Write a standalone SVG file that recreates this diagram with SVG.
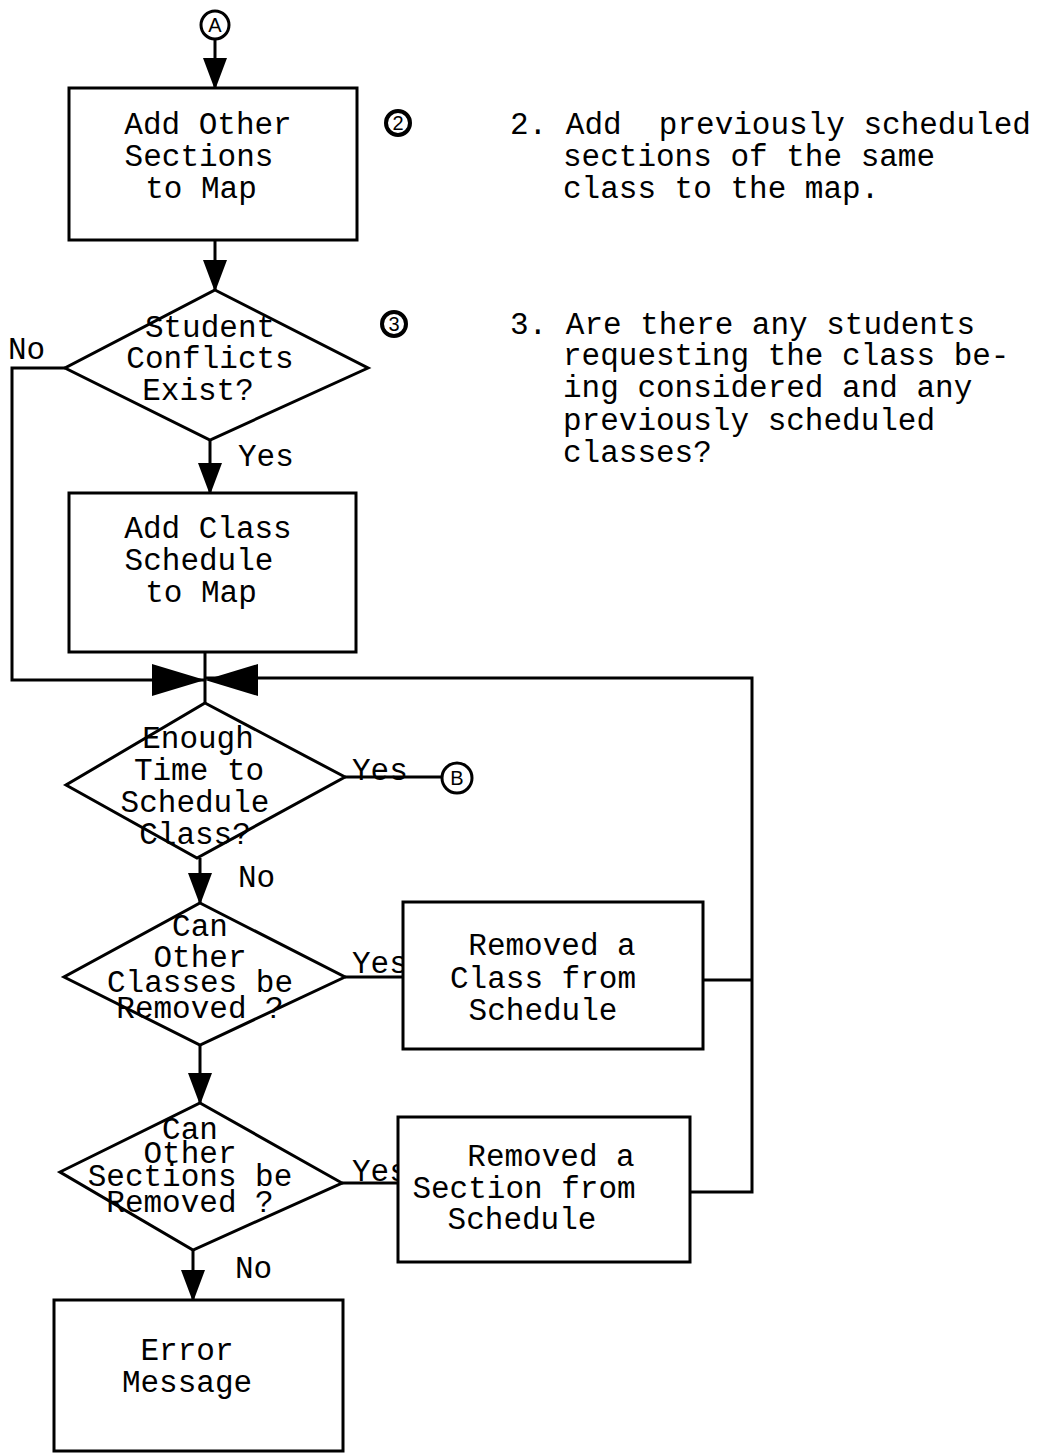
<svg xmlns="http://www.w3.org/2000/svg" width="1052" height="1453" viewBox="0 0 1052 1453">
<defs>
<marker id="ah" markerUnits="userSpaceOnUse" markerWidth="32" markerHeight="24" refX="30" refY="12" orient="auto" viewBox="0 0 32 24">
<path d="M0,0 L32,12 L0,24 Z" fill="#000"/>
</marker>
<style>
.t{font-family:"Liberation Mono","Courier New",monospace;font-size:31px;fill:#000;text-anchor:middle}
.l{font-family:"Liberation Mono","Courier New",monospace;font-size:31px;fill:#000}
.s{fill:#fff;stroke:#000;stroke-width:3}
.c{fill:none;stroke:#000;stroke-width:3}
.n{font-family:"Liberation Sans",Arial,sans-serif;font-size:20px;fill:#000;text-anchor:middle}
</style>
</defs>
<rect width="1052" height="1453" fill="#fff"/>
<g id="connectors">
<line class="c" x1="215" y1="39" x2="215" y2="88" marker-end="url(#ah)"/>
<line class="c" x1="215" y1="240" x2="215" y2="290" marker-end="url(#ah)"/>
<line class="c" x1="210" y1="440" x2="210" y2="493" marker-end="url(#ah)"/>
<polyline class="c" points="65,368 12,368 12,680 205,680"/>
<line class="c" x1="205" y1="652" x2="205" y2="703"/>
<polyline class="c" points="703,980 752,980"/>
<polyline class="c" points="690,1192 752,1192 752,678 205,678"/>
<path d="M152,664 L205,680 L152,696 Z" fill="#000"/>
<path d="M258,664 L205,680 L258,696 Z" fill="#000"/>
<line class="c" x1="345" y1="777" x2="442" y2="777"/>
<line class="c" x1="200" y1="858" x2="200" y2="903" marker-end="url(#ah)"/>
<line class="c" x1="345" y1="977" x2="403" y2="977"/>
<line class="c" x1="200" y1="1045" x2="200" y2="1103" marker-end="url(#ah)"/>
<line class="c" x1="342" y1="1183" x2="398" y2="1183"/>
<line class="c" x1="193" y1="1250" x2="193" y2="1300" marker-end="url(#ah)"/>
<text class="l" x="8" y="359">No</text>
<text class="l" x="238" y="466">Yes</text>
<text class="l" x="352" y="780">Yes</text>
<text class="l" x="238" y="887">No</text>
<text class="l" x="352" y="973">Yes</text>
<text class="l" x="352" y="1181">Yes</text>
<text class="l" x="235" y="1278">No</text>
</g>
<g id="connA">
<circle cx="215" cy="25" r="14" class="s"/>
<text class="n" x="215" y="32">A</text>
</g>
<g id="connB">
<circle cx="457" cy="778" r="15" class="s"/>
<text class="n" x="457" y="785">B</text>
</g>
<g id="box1">
<rect x="69" y="88" width="288" height="152" class="s"/>
<text class="t" x="208" y="134">Add Other</text>
<text class="t" x="199" y="166">Sections</text>
<text class="t" x="201" y="198">to Map</text>
</g>
<g id="note2">
<circle cx="398" cy="123" r="12" fill="#fff" stroke="#000" stroke-width="4"/>
<text class="n" x="398" y="130">2</text>
<text class="l" x="510" y="134" xml:space="preserve">2. Add  previously scheduled</text>
<text class="l" x="563" y="166">sections of the same</text>
<text class="l" x="563" y="198">class to the map.</text>
</g>
<g id="dec1">
<polygon points="215,290 368,368 210,440 65,368" class="s"/>
<text class="t" x="210" y="337">Student</text>
<text class="t" x="210" y="368">Conflicts</text>
<text class="t" x="198" y="400">Exist?</text>
</g>
<g id="note3">
<circle cx="394" cy="324" r="12" fill="#fff" stroke="#000" stroke-width="4"/>
<text class="n" x="394" y="331">3</text>
<text class="l" x="510" y="334">3. Are there any students</text>
<text class="l" x="563" y="365">requesting the class be-</text>
<text class="l" x="563" y="397">ing considered and any</text>
<text class="l" x="563" y="430">previously scheduled</text>
<text class="l" x="563" y="462">classes?</text>
</g>
<g id="box2">
<rect x="69" y="493" width="287" height="159" class="s"/>
<text class="t" x="208" y="538">Add Class</text>
<text class="t" x="199" y="570">Schedule</text>
<text class="t" x="201" y="602">to Map</text>
</g>
<g id="dec2">
<polygon points="205,703 345,777 197,858 66,785" class="s"/>
<text class="t" x="198" y="748">Enough</text>
<text class="t" x="199" y="780">Time to</text>
<text class="t" x="195" y="812">Schedule</text>
<text class="t" x="195" y="844">Class?</text>
</g>
<g id="dec3">
<polygon points="200,903 345,977 200,1045 64,977" class="s"/>
<text class="t" x="200" y="936">Can</text>
<text class="t" x="200" y="967">Other</text>
<text class="t" x="200" y="992">Classes be</text>
<text class="t" x="200" y="1018">Removed ?</text>
</g>
<g id="box3">
<rect x="403" y="902" width="300" height="147" class="s"/>
<text class="t" x="552" y="955">Removed a</text>
<text class="t" x="543" y="988">Class from</text>
<text class="t" x="543" y="1020">Schedule</text>
</g>
<g id="dec4">
<polygon points="200,1103 342,1183 193,1250 60,1172" class="s"/>
<text class="t" x="190" y="1139">Can</text>
<text class="t" x="190" y="1163">Other</text>
<text class="t" x="190" y="1186">Sections be</text>
<text class="t" x="190" y="1212">Removed ?</text>
</g>
<g id="box4">
<rect x="398" y="1117" width="292" height="145" class="s"/>
<text class="t" x="551" y="1166">Removed a</text>
<text class="t" x="524" y="1198">Section from</text>
<text class="t" x="522" y="1229">Schedule</text>
</g>
<g id="box5">
<rect x="54" y="1300" width="289" height="151" class="s"/>
<text class="t" x="187" y="1360">Error</text>
<text class="t" x="187" y="1392">Message</text>
</g>
</svg>
